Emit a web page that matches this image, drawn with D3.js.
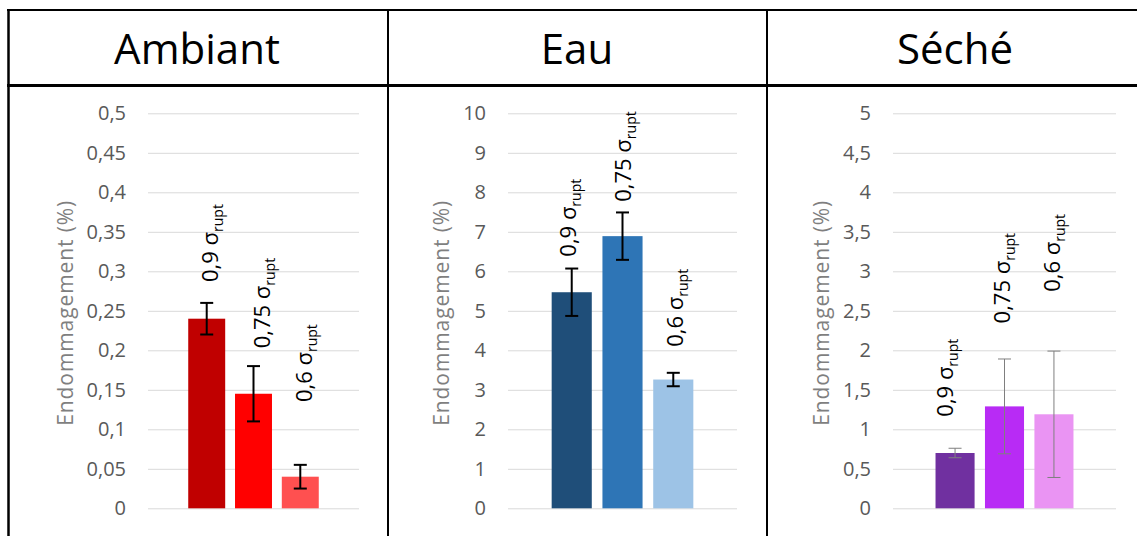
<!DOCTYPE html>
<html><head><meta charset="utf-8">
<script src="https://cdn.jsdelivr.net/npm/d3@7"></script>
<style>
html,body{margin:0;padding:0;background:#fff;}
svg{display:block;font-family:"Open Sans",sans-serif;}
</style></head>
<body>
<svg id="c" width="1137" height="536"></svg>
<script>
// ---- data ----
const panelTitles = ["Ambiant", "Eau", "Séché"];
const seriesLabels = ["0,9", "0,75", "0,6"];
const ambiantValues = [0.24, 0.145, 0.04];
const ambiantErrors = [0.02, 0.035, 0.015];
const eauValues = [5.47, 6.89, 3.26];
const eauErrors = [0.6, 0.6, 0.17];
const secheValues = [0.70, 1.29, 1.19];
const secheErrors = [0.06, 0.6, 0.8];
const ambiantTicks = [0, 0.05, 0.1, 0.15, 0.2, 0.25, 0.3, 0.35, 0.4, 0.45, 0.5];
const eauTicks = [0, 1, 2, 3, 4, 5, 6, 7, 8, 9, 10];
const secheTicks = [0, 0.5, 1, 1.5, 2, 2.5, 3, 3.5, 4, 4.5, 5];
// label anchors (value where rotated label starts)
const ambiantLabelAt = [0.2865, 0.2025, 0.1345];
const eauLabelAt = [6.37, 7.76, 4.09];
const secheLabelAt = [1.16, 2.34, 2.74];
const yTitle = "Endommagement (%)";

// ---- layout / style ----
const panels = [
  {values: ambiantValues, errors: ambiantErrors, ticks: ambiantTicks, labelAt: ambiantLabelAt,
   colors: ["#C00000", "#FF0000", "#FF5050"], left: 148, right: 359, titleX: 197,
   errColor: "#000", errW: 2, labelDx: [11.5, 16, 12]},
  {values: eauValues, errors: eauErrors, ticks: eauTicks, labelAt: eauLabelAt,
   colors: ["#1F4E79", "#2E75B6", "#9DC3E6"], left: 508, right: 737, titleX: 577,
   errColor: "#000", errW: 2, labelDx: [4, 8, 10]},
  {values: secheValues, errors: secheErrors, ticks: secheTicks, labelAt: secheLabelAt,
   colors: ["#7030A0", "#B82BF5", "#EA94F3"], left: 893, right: 1116, titleX: 955,
   errColor: "#7f7f7f", errW: 1, labelDx: [-2, 5.5, 6]}
];
const plotTop = 113.3, plotBottom = 508.3;
const svg = d3.select("#c");
const fmt = v => String(v).replace(".", ",");

panels.forEach((p, pi) => {
  const maxV = p.ticks[p.ticks.length - 1];
  const y = d3.scaleLinear().domain([0, maxV]).range([plotBottom, plotTop]);
  const x = d3.scaleBand().domain(seriesLabels).range([p.left, p.right])
              .paddingInner(0.21).paddingOuter(0.86);
  const g = svg.append("g");

  // gridlines + tick labels
  const ax = g.append("g").attr("transform", `translate(${p.left},0)`)
    .call(d3.axisLeft(y).tickValues(p.ticks).tickFormat(fmt)
      .tickSize(-(p.right - p.left)).tickPadding(22));
  ax.select(".domain").remove();
  ax.selectAll(".tick line").attr("stroke", "#d9d9d9").attr("stroke-width", 1);
  ax.selectAll(".tick text").attr("fill", "#595959").style("font-size", "20px")
    .style("font-family", "'Open Sans',sans-serif");

  // bars
  g.selectAll("rect.bar").data(p.values).join("rect")
    .attr("x", (d, i) => x(seriesLabels[i])).attr("width", x.bandwidth())
    .attr("y", d => y(d)).attr("height", d => y(0) - y(d))
    .attr("fill", (d, i) => p.colors[i]);

  // error bars
  const eb = g.selectAll("g.err").data(p.values).join("g")
    .attr("stroke", p.errColor).attr("stroke-width", p.errW);
  eb.each(function(d, i) {
    const cx = x(seriesLabels[i]) + x.bandwidth() / 2;
    const e = p.errors[i];
    const s = d3.select(this);
    s.append("line").attr("x1", cx).attr("x2", cx).attr("y1", y(d + e)).attr("y2", y(d - e));
    s.append("line").attr("x1", cx - 6.5).attr("x2", cx + 6.5).attr("y1", y(d + e)).attr("y2", y(d + e));
    s.append("line").attr("x1", cx - 6.5).attr("x2", cx + 6.5).attr("y1", y(d - e)).attr("y2", y(d - e));
  });

  // rotated labels
  seriesLabels.forEach((lab, i) => {
    const cx = x(lab) + x.bandwidth() / 2 + p.labelDx[i];
    const t = g.append("text")
      .attr("transform", `translate(${cx},${y(p.labelAt[i])}) rotate(-90)`)
      .attr("fill", "#000").style("font-size", "22px");
    t.append("tspan").text(lab + " σ");
    t.append("tspan").attr("dy", 5).style("font-size", "14px").text("rupt");
  });

  // y-axis title
  let minLeft = Infinity;
  ax.selectAll(".tick text").each(function() {
    const b = this.getBBox(); minLeft = Math.min(minLeft, p.left + b.x);
  });
  g.append("text")
    .attr("transform", `translate(${minLeft - 14},${(plotTop + plotBottom) / 2 + 2}) rotate(-90)`)
    .attr("text-anchor", "middle").attr("fill", "#7f7f7f")
    .style("font-size", "21px").style("letter-spacing", "0.9px").text(yTitle);

  // header title
  svg.append("text").attr("x", p.titleX).attr("y", 64).attr("text-anchor", "middle")
    .attr("fill", "#000").style("font-size", "42px").text(panelTitles[pi]);
});

// table borders
const bl = svg.append("g").attr("stroke", "#000");
bl.append("line").attr("x1", 7).attr("x2", 1137).attr("y1", 10).attr("y2", 10).attr("stroke-width", 2);
bl.append("line").attr("x1", 7).attr("x2", 1137).attr("y1", 85.5).attr("y2", 85.5).attr("stroke-width", 3);
bl.append("line").attr("x1", 8.5).attr("x2", 8.5).attr("y1", 9).attr("y2", 536).attr("stroke-width", 2.5);
bl.append("line").attr("x1", 388).attr("x2", 388).attr("y1", 9).attr("y2", 536).attr("stroke-width", 2);
bl.append("line").attr("x1", 767).attr("x2", 767).attr("y1", 9).attr("y2", 536).attr("stroke-width", 2);
</script>
</body></html>
